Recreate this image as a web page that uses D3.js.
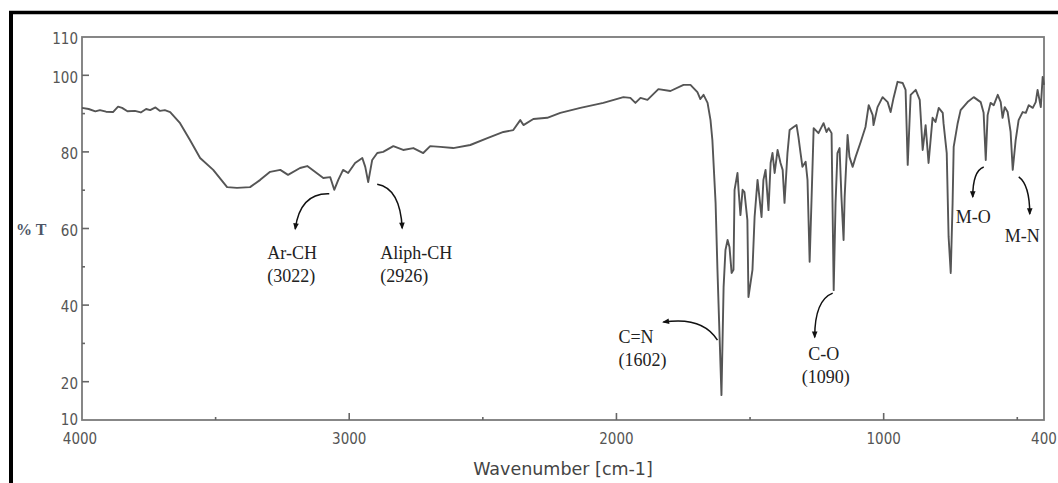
<!DOCTYPE html>
<html>
<head>
<meta charset="utf-8">
<script src="https://cdn.jsdelivr.net/npm/d3@7"></script>
<style>
    body { margin: 0; background: #fff; }
    svg { display: block; }
    .tick-label { font-family: "DejaVu Sans Condensed", "DejaVu Sans", sans-serif; font-stretch: condensed; font-size: 15px; fill: #555; }
    .note { font-family: "Liberation Serif", "Times New Roman", serif; font-size: 18px; fill: #222; }
</style>
</head>
<body>
<svg id="ir-spectrum" width="1058" height="483"></svg>
<script>
// spectrum (cm-1, %T)
var wavenumber = [4000, 3975, 3950, 3933, 3910, 3884, 3865, 3850, 3830, 3802, 3780, 3760, 3745, 3725, 3708, 3690, 3670,
    3633, 3596, 3558, 3509, 3457, 3420, 3371, 3333, 3296, 3258, 3229, 3184, 3157, 3097, 3071, 3056, 3041, 3023,
    3004, 2978, 2951, 2940, 2929, 2914, 2895, 2873, 2835, 2798, 2760, 2723, 2697, 2659, 2611, 2547, 2483, 2423,
    2386, 2360, 2348, 2311, 2259, 2210, 2135, 2049, 1974, 1948, 1929, 1910, 1884, 1843, 1798, 1749, 1723, 1697,
    1686, 1674, 1659, 1648, 1641, 1629, 1622, 1614, 1607, 1599, 1592, 1584, 1577, 1569, 1562, 1558, 1547, 1543,
    1536, 1528, 1521, 1510, 1506, 1491, 1483, 1472, 1465, 1457, 1450, 1442, 1431, 1423, 1416, 1408, 1397, 1386,
    1378, 1371, 1360, 1352, 1337, 1326, 1319, 1311, 1304, 1292, 1285, 1277, 1270, 1262, 1244, 1225, 1214, 1206,
    1195, 1187, 1180, 1173, 1165, 1158, 1150, 1146, 1135, 1128, 1116, 1105, 1086, 1068, 1056, 1041, 1038, 1023,
    1004, 985, 974, 963, 948, 929, 918, 910, 899, 880, 865, 854, 843, 832, 817, 806, 794, 779, 776, 764, 757, 749,
    742, 738, 723, 712, 686, 663, 637, 626, 618, 611, 600, 588, 573, 562, 555, 547, 536, 525, 517, 506, 495, 480,
    468, 457, 442, 431, 424, 412, 405, 400];
var transmittance = [91.5, 91.2, 90.6, 90.9, 90.5, 90.4, 91.8, 91.5, 90.6, 90.7, 90.3, 91.2, 90.9, 91.6, 90.7, 90.9, 90.4,
    87.5, 83.1, 78.4, 75.3, 70.8, 70.6, 70.8, 72.7, 74.8, 75.3, 74.0, 75.8, 76.3, 73.2, 73.4, 70.1, 72.7, 75.3,
    74.5, 77.1, 78.4, 76.1, 72.1, 77.9, 79.7, 80.0, 81.5, 80.5, 81.0, 79.7, 81.5, 81.3, 81.0, 81.8, 83.6, 85.2,
    85.7, 88.3, 87.0, 88.6, 88.9, 90.2, 91.5, 92.8, 94.3, 94.1, 92.8, 94.1, 93.6, 96.4, 95.9, 97.5, 97.5, 95.6,
    93.8, 94.9, 92.8, 88.3, 83.1, 66.7, 49.2, 31.7, 16.5, 44.7, 54.4, 57.0, 55.2, 48.4, 49.2, 70.1, 74.5, 70.1,
    63.5, 70.1, 69.5, 62.2, 42.1, 49.2, 63.0, 72.7, 68.2, 63.0, 72.7, 75.3, 64.8, 77.1, 79.7, 74.5, 80.5, 77.1,
    75.3, 66.7, 79.7, 85.7, 86.5, 87.0, 83.9, 79.7, 76.1, 77.4, 72.7, 51.3, 67.4, 86.2, 84.9, 87.5, 85.2, 86.2,
    84.9, 43.9, 66.7, 79.7, 81.0, 68.2, 57.0, 68.2, 84.4, 78.7, 76.1, 78.7, 82.6, 86.5, 92.2, 89.6, 87.0, 91.7,
    94.3, 93.0, 90.4, 94.1, 98.3, 98.0, 96.2, 76.6, 94.9, 96.2, 93.6, 80.5, 87.0, 77.1, 88.9, 87.8, 91.5, 90.2, 87.5, 79.7, 57.8, 48.4,
    66.7, 81.3, 87.5, 90.9, 93.0, 94.3, 93.0, 90.2, 77.9, 89.6, 92.8, 92.2, 94.9, 93.0, 88.9, 91.7, 90.4, 85.2, 75.3, 83.1, 88.3, 90.4,
    90.2, 92.2, 91.5, 93.0, 96.2, 91.7, 99.6, 97.5];

var xMajor = [4000, 3000, 2000, 1000, 400];
var xMinor = [3500, 2500, 1500, 500];
var yMajor = [10, 20, 40, 60, 80, 100, 110];
var yMinor = [30, 50, 70, 90];

// band assignments: label lines and the dip each arrow starts from
var bandLabels = [["Ar-CH", "(3022)"], ["Aliph-CH", "(2926)"], ["C=N", "(1602)"], ["C-O", "(1090)"], ["M-O"], ["M-N"]];
var bandWave = [3056, 2929, 1607, 1187, 618, 517];
var bandT = [70.1, 72.1, 16.5, 43.9, 77.9, 75.3];

var svg = d3.select("#ir-spectrum");

var x = d3.scaleLinear().domain([4000, 400]).range([82, 1044]);
var y = d3.scaleLinear().domain([10, 110]).range([420, 37]);

// black frame of the original figure
svg.append("line").attr("x1", 9).attr("x2", 1058).attr("y1", 12.5).attr("y2", 12.5)
    .style("stroke", "#000").style("stroke-width", 3.5);
svg.append("line").attr("x1", 11).attr("x2", 11).attr("y1", 11).attr("y2", 483)
    .style("stroke", "#000").style("stroke-width", 4);

// plot box
svg.append("rect")
    .attr("x", x(4000)).attr("y", y(110))
    .attr("width", x(400) - x(4000)).attr("height", y(10) - y(110))
    .style("fill", "none").style("stroke", "#7a7a7a").style("stroke-width", 1.8);

svg.selectAll(".ymaj").data(yMajor.filter(function(d){ return d > 10 && d < 110; })).enter()
    .append("line").attr("class", "ymaj")
    .attr("x1", x(4000)).attr("x2", x(4000) + 7)
    .attr("y1", function(d){ return y(d); }).attr("y2", function(d){ return y(d); })
    .style("stroke", "#666").style("stroke-width", 1.6);
svg.selectAll(".ymin").data(yMinor).enter()
    .append("line").attr("class", "ymin")
    .attr("x1", x(4000)).attr("x2", x(4000) + 3)
    .attr("y1", function(d){ return y(d); }).attr("y2", function(d){ return y(d); })
    .style("stroke", "#666").style("stroke-width", 1.6);
svg.selectAll(".xmaj").data(xMajor.filter(function(d){ return d < 4000 && d > 400; })).enter()
    .append("line").attr("class", "xmaj")
    .attr("x1", function(d){ return x(d); }).attr("x2", function(d){ return x(d); })
    .attr("y1", y(10)).attr("y2", y(10) - 7)
    .style("stroke", "#666").style("stroke-width", 1.6);
svg.selectAll(".xmin").data(xMinor).enter()
    .append("line").attr("class", "xmin")
    .attr("x1", function(d){ return x(d); }).attr("x2", function(d){ return x(d); })
    .attr("y1", y(10)).attr("y2", y(10) - 3)
    .style("stroke", "#666").style("stroke-width", 1.6);

svg.selectAll(".ylab").data(yMajor).enter()
    .append("text").attr("class", "tick-label")
    .attr("x", 78)
    .attr("y", function(d){ return y(d) + (d == 10 ? 0 : 2); })
    .attr("dy", "0.35em")
    .style("text-anchor", "end")
    .text(function(d){ return d; });

svg.selectAll(".xlab").data(xMajor).enter()
    .append("text").attr("class", "tick-label")
    .attr("x", function(d){ return x(d) - (d == 4000 ? 2 : 0); })
    .attr("y", 444)
    .style("text-anchor", "middle")
    .text(function(d){ return d; });

svg.append("text")
    .attr("x", 563).attr("y", 475)
    .style("text-anchor", "middle")
    .style("font-family", "'DejaVu Sans', sans-serif")
    .style("font-size", "17.5px")
    .style("fill", "#444")
    .text("Wavenumber [cm-1]");

svg.append("text")
    .attr("x", 16).attr("y", 235)
    .style("font-family", "'Liberation Serif', serif")
    .style("font-weight", "bold")
    .style("font-size", "16px")
    .style("fill", "#4d5566")
    .text("% T");

var line = d3.line()
    .x(function(d){ return x(d[0]); })
    .y(function(d){ return y(d[1]); });

svg.append("path")
    .datum(d3.zip(wavenumber, transmittance))
    .attr("d", line)
    .style("fill", "none")
    .style("stroke", "#555")
    .style("stroke-width", 1.9)
    .style("stroke-linejoin", "round");

svg.append("defs").append("marker")
    .attr("id", "head")
    .attr("viewBox", "0 0 10 10")
    .attr("refX", 8).attr("refY", 5)
    .attr("markerWidth", 8).attr("markerHeight", 7)
    .attr("markerUnits", "userSpaceOnUse")
    .attr("orient", "auto")
    .append("path")
    .attr("d", "M0,1 L10,5 L0,9 Z")
    .style("fill", "#111");

// arrow start / control / end and text spot, in px from the dip
var noteLayout = [
    { s: [-5, 4], c: [-34, 3], e: [-39, 39], t: [-67, 69], anchor: "start" },
    { s: [9, 2], c: [32, 6], e: [34, 46], t: [12, 77], anchor: "start" },
    { s: [-4, -55], c: [-19, -79], e: [-58, -73], t: [-103, -52], anchor: "start" },
    { s: [-1, 3], c: [-19, 10], e: [-19, 47], t: [-10, 70], anchor: "middle" },
    { s: [-2, 7], c: [-13, 11], e: [-13, 37], t: [-30, 63], anchor: "start" },
    { s: [6, 7], c: [17, 15], e: [17, 44], t: [-8, 72], anchor: "start" }
];

bandLabels.forEach(function(lines, i) {
    var px = x(bandWave[i]), py = y(bandT[i]);
    var L = noteLayout[i];
    svg.append("path")
        .attr("d", "M" + (px + L.s[0]) + "," + (py + L.s[1]) +
            " Q" + (px + L.c[0]) + "," + (py + L.c[1]) +
            " " + (px + L.e[0]) + "," + (py + L.e[1]))
        .style("fill", "none")
        .style("stroke", "#111")
        .style("stroke-width", 1.5)
        .attr("marker-end", "url(#head)");
    var t = svg.append("text")
        .attr("class", "note")
        .attr("x", px + L.t[0]).attr("y", py + L.t[1])
        .style("text-anchor", L.anchor);
    lines.forEach(function(s, k) {
        t.append("tspan")
            .attr("x", px + L.t[0] + (L.anchor == "middle" && k == 1 ? 2 : 0))
            .attr("dy", k == 0 ? 0 : 23)
            .text(s);
    });
});
</script>
</body>
</html>
